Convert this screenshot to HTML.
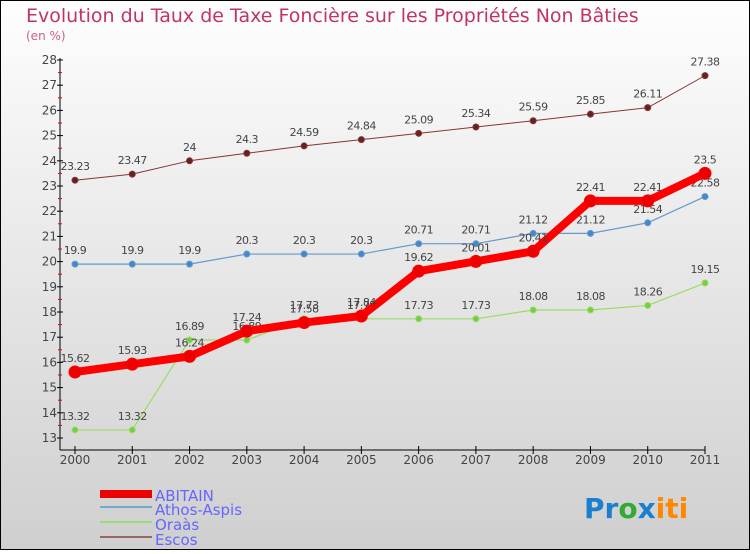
<!DOCTYPE html>
<html><head><meta charset="utf-8"><style>
body{margin:0}
#c{width:750px;height:550px;position:relative;font-family:"DejaVu Sans","Liberation Sans",sans-serif}
</style></head><body>
<div id="c">
<svg id="s" width="750" height="550" xmlns="http://www.w3.org/2000/svg">
<defs><linearGradient id="bg" x1="0" y1="0" x2="0" y2="1"><stop offset="0" stop-color="#fefefe"/><stop offset="1" stop-color="#cfcfcf"/></linearGradient></defs>
<rect x="0.5" y="0.5" width="749" height="549" fill="url(#bg)" stroke="#000"/>
<text x="26" y="22" font-size="19" fill="#c0336a">Evolution du Taux de Taxe Foncière sur les Propriétés Non Bâties</text>
<text x="26" y="40" font-size="12" fill="#d0608a">(en %)</text>
<g id="axes"></g><g id="series"></g>
<g>
<rect x="100" y="490" width="52" height="8" fill="#e00"/>
<text x="155" y="501" font-size="15" fill="#6666ff">ABITAIN</text>
<rect x="100" y="506" width="52" height="2" fill="#7aa8cc"/>
<text x="155" y="515" font-size="15" fill="#6666ff">Athos-Aspis</text>
<rect x="100" y="521" width="52" height="2" fill="#99dd77"/>
<text x="155" y="530" font-size="15" fill="#6666ff">Oraàs</text>
<rect x="100" y="536" width="52" height="2" fill="#996666"/>
<text x="155" y="545" font-size="15" fill="#6666ff">Escos</text>
</g>
<g font-size="28" font-weight="bold">
<text x="584" y="518"><tspan fill="#1a7fd0">Pr</tspan><tspan fill="#33aa33">o</tspan><tspan fill="#1a7fd0">x</tspan><tspan fill="#ff8800">iti</tspan></text>
</g>
</svg></div>
<script>
const years=[2000,2001,2002,2003,2004,2005,2006,2007,2008,2009,2010,2011];
const yTicks=[13,14,15,16,17,18,19,20,21,22,23,24,25,26,27,28];
const abitain=[15.62,15.93,16.24,17.24,17.58,17.84,19.62,20.01,20.41,22.41,22.41,23.5];
const athos=[19.9,19.9,19.9,20.3,20.3,20.3,20.71,20.71,21.12,21.12,21.54,22.58];
const oraas=[13.32,13.32,16.89,16.89,17.73,17.73,17.73,17.73,18.08,18.08,18.26,19.15];
const escos=[23.23,23.47,24,24.3,24.59,24.84,25.09,25.34,25.59,25.85,26.11,27.38];
const NS="http://www.w3.org/2000/svg";
const X=i=>75+i*(630/11);
const Y=v=>438-(v-13)*25.2;
function mk(t,a,p){const e=document.createElementNS(NS,t);for(const k in a)e.setAttribute(k,a[k]);p.appendChild(e);return e;}
const ax=document.getElementById('axes');
let l=mk('line',{x1:60,y1:58,x2:60,y2:450,stroke:'#000'},ax);

l=mk('line',{x1:60,y1:450,x2:705,y2:450,stroke:'#000'},ax);

yTicks.forEach(v=>{mk('line',{x1:57,x2:63,y1:Y(v),y2:Y(v),stroke:'#000'},ax);
if(v<28)mk('line',{x1:58,x2:62,y1:Y(v+0.5),y2:Y(v+0.5),stroke:'#e00'},ax);
const t=mk('text',{x:57,y:Y(v)+4,'font-size':12,fill:'#444','text-anchor':'end'},ax);t.textContent=v;
});
years.forEach((y,i)=>{mk('line',{x1:X(i),x2:X(i),y1:446,y2:454,stroke:'#000'},ax);
const t=mk('text',{x:X(i),y:464,'font-size':12,fill:'#444','text-anchor':'middle'},ax);t.textContent=y;
});
const sg=document.getElementById('series');
function draw(name,vals,col,w,r,dot){
const g=mk('g',{},sg);
const pl=mk('polyline',{points:vals.map((v,i)=>X(i)+','+Y(v)).join(' '),fill:'none',stroke:col,'stroke-width':w,'stroke-linejoin':'round'},g);

vals.forEach((v,i)=>{const c=mk('circle',{cx:X(i),cy:Y(v),r:r,fill:dot,stroke:col,'stroke-width':1},g);

const t=mk('text',{x:X(i),y:Y(v)-10,'font-size':11,fill:'#444','text-anchor':'middle','letter-spacing':'-0.5'},g);t.textContent=v;
});}
draw('escos',escos,'#883333',1,3,'#662222');
draw('athos-aspis',athos,'#6699cc',1.2,3,'#4488cc');
draw('oraas',oraas,'#99dd66',1.2,3,'#77cc44');
draw('abitain',abitain,'#ff0000',8,6,'#ee0000');
</script>
</body></html>
